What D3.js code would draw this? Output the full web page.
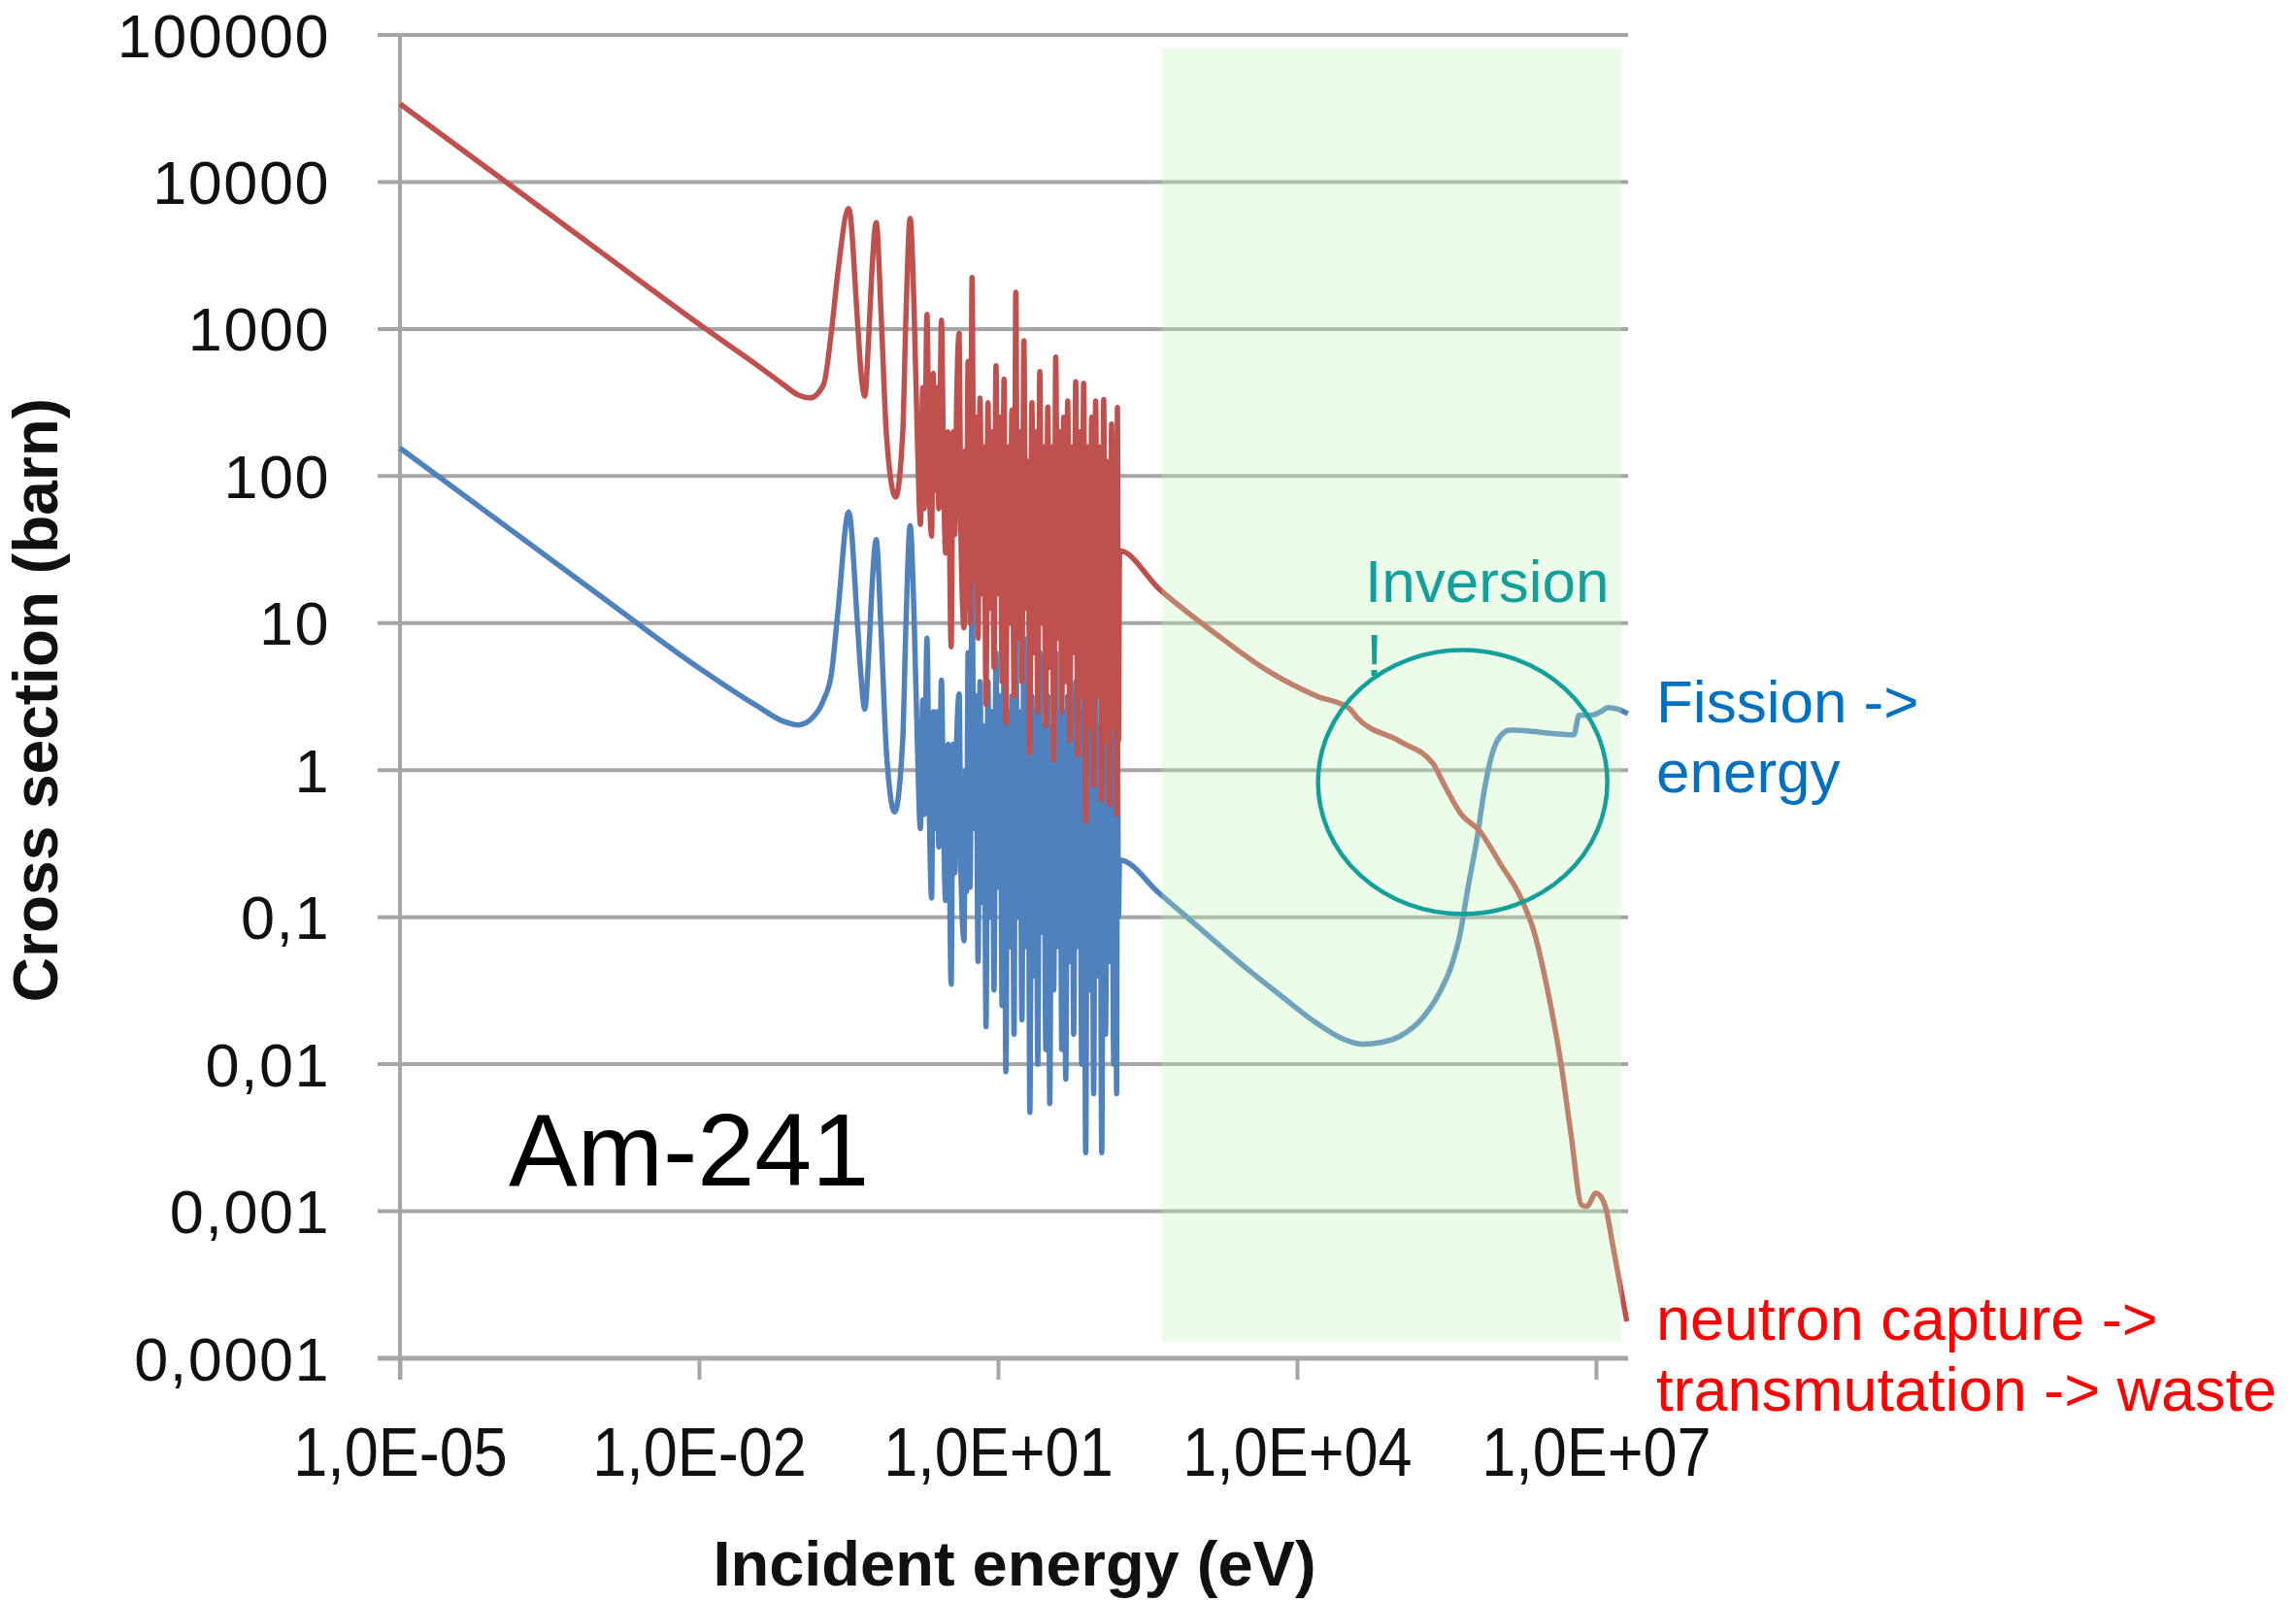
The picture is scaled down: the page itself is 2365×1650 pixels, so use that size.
<!DOCTYPE html>
<html>
<head>
<meta charset="utf-8">
<script src="https://cdn.jsdelivr.net/npm/d3@7"></script>
<style>
  body { margin: 0; background: #fff; }
  svg text { font-family: "Liberation Sans", Arial, sans-serif; }
</style>
</head>
<body>
<div id="chart"></div>
<script>
// Am-241 cross sections: [energy (eV), sigma (barn)]
const captureThermal = [
  [1e-5, 34000], [1e-3, 3400], [0.01, 1080], [0.038, 570], [0.07, 420], [0.1, 355], [0.13, 340],
  [0.178, 420], [0.214, 980], [0.248, 2450], [0.318, 6600], [0.389, 1150], [0.419, 540],
  [0.461, 350], [0.505, 890], [0.543, 2450], [0.6, 5300], [0.676, 1150], [0.759, 195],
  [0.94, 72], [1.107, 195], [1.19, 1150], [1.315, 5660], [1.435, 1480], [1.55, 195], [1.667, 47]
];
const captureResonances = [
  [1.76, 400], [1.82, 60], [1.94, 1260], [2.04, 100], [2.16, 39], [2.24, 500], [2.34, 80],
  [2.45, 400], [2.55, 60], [2.71, 1150], [2.85, 100], [2.98, 30], [3.15, 200], [3.39, 6.9],
  [3.55, 200], [3.7, 40], [3.85, 316], [4.08, 933], [4.25, 40], [4.57, 9.3], [4.73, 150],
  [4.85, 25], [5.01, 603], [5.25, 10], [5.50, 2240], [5.75, 20], [6.03, 251], [6.31, 7.9],
  [6.61, 339], [6.92, 15.8], [7.24, 158], [7.59, 2.8], [7.94, 316], [8.32, 12.6], [8.71, 200],
  [9.12, 5.0], [9.55, 562], [10.0, 15.8], [10.5, 251], [11.0, 4.0], [11.5, 457], [12.0, 2.1],
  [12.6, 158], [13.2, 10], [13.8, 282], [14.5, 3.2], [15.1, 1780], [15.8, 7.9], [16.6, 200],
  [17.4, 4.0], [18.2, 832], [19.1, 12.6], [20.0, 126], [20.9, 1.32], [21.9, 316], [22.9, 6.3],
  [24.0, 200], [25.1, 2.5], [26.3, 513], [27.5, 10], [28.8, 158], [30.2, 2.0], [31.6, 295],
  [33.1, 5.0], [34.7, 158], [36.3, 1.17], [38.0, 646], [39.8, 7.9], [41.7, 200], [43.7, 2.5],
  [45.7, 251], [47.9, 4.0], [50.1, 324], [52.5, 1.58], [55.0, 158], [57.5, 6.3], [60.3, 437],
  [63.1, 1.26], [66.1, 200], [69.2, 3.2], [72.4, 427], [75.9, 0.45], [79.4, 158], [83.2, 2.0],
  [87.1, 251], [91.2, 0.79], [95.5, 324], [100, 3.2], [105, 158], [110, 0.63], [115, 331],
  [120, 1.58], [126, 126], [132, 0.58], [138, 226], [145, 2.0], [151, 158], [155, 0.5],
  [158, 292], [162, 1.58], [166, 31]
];
const captureFast = [
  [417, 17], [1550, 8.4], [4950, 4.8], [15800, 3.19], [33900, 2.61], [39800, 2.29],
  [108000, 1.57], [234000, 1.10], [285000, 0.85], [437000, 0.51], [692000, 0.38],
  [1.1e6, 0.23], [1.74e6, 0.138], [2.4e6, 0.079], [3.24e6, 0.033], [4.47e6, 0.01],
  [5.6e6, 0.0034], [7.2e6, 0.0011], [8.1e6, 0.00108], [1.0e7, 0.00133], [1.23e7, 0.0011],
  [1.48e7, 0.00058], [2.04e7, 0.000178]
];

const fissionThermal = [
  [1e-5, 155], [1e-3, 15.5], [0.01, 4.95], [0.038, 2.74], [0.07, 2.15], [0.1, 2.03], [0.14, 2.3],
  [0.178, 3.0], [0.214, 4.6], [0.248, 12], [0.318, 57], [0.389, 10], [0.419, 4.7], [0.461, 2.6],
  [0.505, 6.2], [0.543, 17], [0.6, 37], [0.676, 8], [0.759, 1.35], [0.92, 0.52], [1.107, 1.6],
  [1.19, 9.3], [1.315, 46], [1.435, 12], [1.55, 1.6], [1.667, 0.4]
];
const fissionResonances = [
  [1.76, 3.0], [1.82, 0.5], [1.94, 7.9], [2.04, 0.6], [2.16, 0.135], [2.24, 2.5], [2.34, 0.4],
  [2.45, 2.5], [2.55, 0.3], [2.71, 4.1], [2.85, 0.4], [2.98, 0.13], [3.15, 1.5], [3.39, 0.035],
  [3.55, 1.5], [3.7, 0.2], [3.85, 1.58], [4.08, 3.3], [4.25, 0.2], [4.57, 0.069], [4.73, 1.0],
  [4.85, 0.15], [5.01, 6.3], [5.25, 0.16], [5.50, 21], [5.75, 0.4], [6.03, 3.2], [6.31, 0.05],
  [6.61, 4.0], [6.92, 0.126], [7.24, 2.0], [7.59, 0.018], [7.94, 4.0], [8.32, 0.1], [8.71, 2.5],
  [9.12, 0.032], [9.55, 6.3], [10.0, 0.16], [10.5, 3.2], [11.0, 0.025], [11.5, 5.0],
  [12.0, 0.0089], [12.6, 2.5], [13.2, 0.063], [13.8, 3.2], [14.5, 0.016], [15.1, 15.8],
  [15.8, 0.1], [16.6, 2.5], [17.4, 0.02], [18.2, 7.9], [19.1, 0.063], [20.0, 2.0],
  [20.9, 0.0047], [21.9, 3.2], [22.9, 0.04], [24.0, 2.5], [25.1, 0.01], [26.3, 6.3],
  [27.5, 0.079], [28.8, 2.0], [30.2, 0.0126], [31.6, 3.2], [33.1, 0.0054], [34.7, 2.0],
  [36.3, 0.032], [38.0, 6.3], [39.8, 0.063], [41.7, 2.5], [43.7, 0.0126], [45.7, 2.5],
  [47.9, 0.0079], [50.1, 3.2], [52.5, 0.05], [55.0, 2.0], [57.5, 0.016], [60.3, 4.0],
  [63.1, 0.063], [66.1, 2.5], [69.2, 0.01], [72.4, 4.0], [75.9, 0.0025], [79.4, 2.0],
  [83.2, 0.032], [87.1, 2.5], [91.2, 0.0063], [95.5, 3.2], [100, 0.04], [105, 2.0],
  [110, 0.0025], [115, 3.2], [120, 0.016], [126, 1.58], [132, 0.05], [138, 2.5], [145, 0.01],
  [151, 2.0], [155, 0.0063], [158, 2.5], [162, 0.1], [166, 0.245]
];
const fissionFast = [
  [417, 0.145], [1000, 0.087], [2880, 0.047], [7240, 0.0285], [15800, 0.019], [28200, 0.015],
  [44700, 0.0137], [70800, 0.0141], [108000, 0.0155], [186000, 0.021], [275000, 0.0316],
  [355000, 0.0468], [437000, 0.079], [513000, 0.151], [646000, 0.355], [750000, 0.70],
  [871000, 1.16], [1.06e6, 1.65], [1.38e6, 1.87], [2.4e6, 1.83], [3.5e6, 1.78], [6.0e6, 1.74],
  [6.76e6, 2.36], [8.9e6, 2.36], [1.12e7, 2.5], [1.32e7, 2.67], [1.66e7, 2.6], [2.09e7, 2.42]
];

const xTicks = [1e-5, 1e-2, 1e1, 1e4, 1e7];
const xTickLabels = ['1,0E-05', '1,0E-02', '1,0E+01', '1,0E+04', '1,0E+07'];
const yTicks = [1e-4, 1e-3, 1e-2, 1e-1, 1, 10, 100, 1000, 10000, 100000];
const yTickLabels = ['0,0001', '0,001', '0,01', '0,1', '1', '10', '100', '1000', '10000', '100000'];

// shaded fast-neutron band and the "inversion" ellipse
const fastBandEnergy = [440, 1.8e7];
const fastBandSigma = [1.3e-4, 8.1e4];
const inversionCenter = [4.6e5, 0.83];

const W = 2365, H = 1650;
const plot = { left: 412, right: 1677, top: 36, bottom: 1399 };
const gridColor = '#a5a5a5';

const svg = d3.select('#chart').append('svg')
  .attr('width', W)
  .attr('height', H);

const x = d3.scaleLog().domain([1e-5, 2.1e7]).range([plot.left, plot.right]);
const y = d3.scaleLog().domain([1e-4, 1e5]).range([plot.bottom, plot.top]);

// gridlines (with the small stubs left of the axis)
svg.append('g')
  .selectAll('line')
  .data(yTicks)
  .join('line')
  .attr('x1', plot.left - 23)
  .attr('x2', plot.right)
  .attr('y1', d => y(d))
  .attr('y2', d => y(d))
  .attr('stroke', gridColor)
  .attr('stroke-width', (d, i) => i === 0 ? 5 : 4);

// vertical axis line
svg.append('line')
  .attr('x1', plot.left).attr('x2', plot.left)
  .attr('y1', y(1e5)).attr('y2', plot.bottom + 22)
  .attr('stroke', gridColor)
  .attr('stroke-width', 4);

// y tick labels
const yAxis = svg.append('g')
  .attr('transform', `translate(${plot.left},0)`)
  .call(d3.axisLeft(y)
    .tickValues(yTicks)
    .tickFormat((d, i) => yTickLabels[i])
    .tickSize(0)
    .tickPadding(72));
yAxis.select('.domain').remove();
yAxis.selectAll('text')
  .attr('dy', '0.35em')
  .style('font-size', '63px')
  .style('letter-spacing', '1.5px')
  .attr('fill', '#111');

// x axis ticks and labels (narrow, tall lettering as in the original)
const xAxis = svg.append('g')
  .attr('transform', `translate(0,${plot.bottom})`)
  .call(d3.axisBottom(x)
    .tickValues(xTicks)
    .tickFormat((d, i) => xTickLabels[i])
    .tickSize(22)
    .tickPadding(49));
xAxis.select('.domain').remove();
xAxis.selectAll('line').attr('stroke', gridColor).attr('stroke-width', 4);
xAxis.selectAll('text')
  .style('font-size', '70px')
  .attr('transform', 'scale(0.9,1)')
  .attr('fill', '#111');

// curves
const line = d3.line()
  .x(d => x(d[0]))
  .y(d => y(d[1]))
  .curve(d3.curveMonotoneX);

const fission = fissionThermal.concat(fissionResonances, fissionFast);
const capture = captureThermal.concat(captureResonances, captureFast);

svg.append('path')
  .datum(fission)
  .attr('d', line)
  .attr('fill', 'none')
  .attr('stroke', '#4f81bd')
  .attr('stroke-width', 5.5)
  .attr('stroke-linejoin', 'round');

svg.append('path')
  .datum(capture)
  .attr('d', line)
  .attr('fill', 'none')
  .attr('stroke', '#c0504d')
  .attr('stroke-width', 5.5)
  .attr('stroke-linejoin', 'round');

// translucent green band over the fast region
svg.append('rect')
  .attr('x', x(fastBandEnergy[0]))
  .attr('y', y(fastBandSigma[1]))
  .attr('width', x(fastBandEnergy[1]) - x(fastBandEnergy[0]))
  .attr('height', y(fastBandSigma[0]) - y(fastBandSigma[1]))
  .attr('fill', 'rgb(188,245,182)')
  .attr('opacity', 0.3);

// annotations
const teal = '#13a09a';
svg.append('ellipse')
  .attr('cx', x(inversionCenter[0]))
  .attr('cy', y(inversionCenter[1]))
  .attr('rx', 149)
  .attr('ry', 136)
  .attr('fill', 'none')
  .attr('stroke', teal)
  .attr('stroke-width', 4.5);

const notes = [
  { text: 'Inversion', x: 1406, y: 620, size: 62, color: teal },
  { text: '!', x: 1407, y: 696, size: 62, color: teal },
  { text: 'Fission ->', x: 1706, y: 744, size: 62, color: '#0070c0' },
  { text: 'energy', x: 1706, y: 816, size: 62, color: '#0070c0' },
  { text: 'neutron capture ->', x: 1706, y: 1380, size: 63, color: '#ff0000' },
  { text: 'transmutation -> waste', x: 1706, y: 1453, size: 63, color: '#ff0000' },
  { text: 'Am-241', x: 524, y: 1221, size: 106, color: '#000' }
];
svg.append('g')
  .selectAll('text')
  .data(notes)
  .join('text')
  .attr('x', d => d.x)
  .attr('y', d => d.y)
  .style('font-size', d => d.size + 'px')
  .attr('fill', d => d.color)
  .text(d => d.text);

// axis titles
svg.append('text')
  .attr('transform', 'translate(59,721) rotate(-90)')
  .attr('text-anchor', 'middle')
  .style('font-size', '64px')
  .style('font-weight', 'bold')
  .attr('fill', '#111')
  .text('Cross section (barn)');

svg.append('text')
  .attr('x', 1045)
  .attr('y', 1633)
  .attr('text-anchor', 'middle')
  .style('font-size', '65px')
  .style('font-weight', 'bold')
  .attr('fill', '#111')
  .text('Incident energy (eV)');
</script>
</body>
</html>
